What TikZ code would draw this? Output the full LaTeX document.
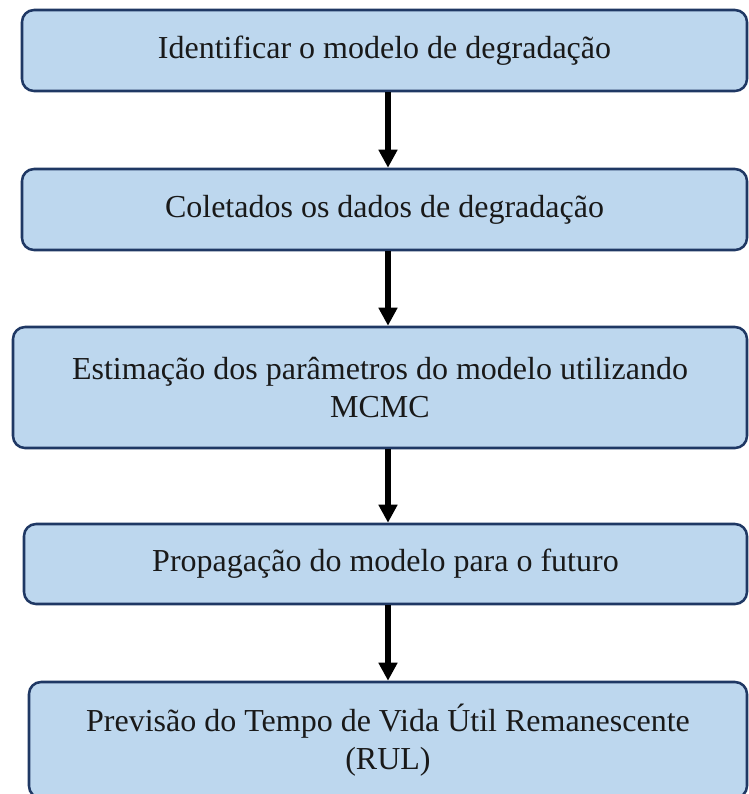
\documentclass[tikz,border=0pt]{standalone}
\usepackage{fontspec}
\setmainfont{Liberation Serif}
\usetikzlibrary{positioning,calc,arrows.meta}

\definecolor{boxfill}{HTML}{BDD7EE}
\definecolor{boxline}{HTML}{1F3864}

\begin{document}
\begin{tikzpicture}[
    x=0.75pt, y=-0.75pt,
    stage/.style={rectangle,rounded corners=9pt,draw=boxline,line width=1.9pt,fill=boxfill,
        align=center,inner sep=0pt,font=\fontsize{24}{29}\selectfont,text=black!90},
    flow/.style={-{Triangle[length=13.5pt,width=13.5pt]},line width=4.2pt,black}
    ]
        \useasboundingbox (0,0) rectangle (749,794);
        \clip (0,0) rectangle (749,794);
        \coordinate (axis) at (388,0);
        \node [stage,minimum width=543.75pt,minimum height=60.75pt](ident) at (384.5,50.5) {\raisebox{4pt}{Identificar o modelo de degradação}};
        \node [stage,minimum width=543.75pt,minimum height=60.75pt](colet) at (384.5,209.5) {Coletados os dados de degradação};
        \node [stage,minimum width=550.5pt,minimum height=90.75pt](estim) at (380,387.5) {Estimação dos parâmetros do modelo utilizando\\MCMC};
        \node [stage,minimum width=542.25pt,minimum height=60pt](propag) at (385.5,564) {Propagação do modelo para o futuro};
        \node [stage,minimum width=538.5pt,minimum height=87pt](rul) at (388,740) {Previsão do Tempo de Vida Útil Remanescente\\(RUL)};
        \draw [flow] (ident.south -| axis) -- (colet.north -| axis);
        \draw [flow] (colet.south -| axis) -- (estim.north -| axis);
        \draw [flow] (estim.south -| axis) -- (propag.north -| axis);
        \draw [flow] (propag.south -| axis) -- (rul.north -| axis);
\end{tikzpicture}
\end{document}
